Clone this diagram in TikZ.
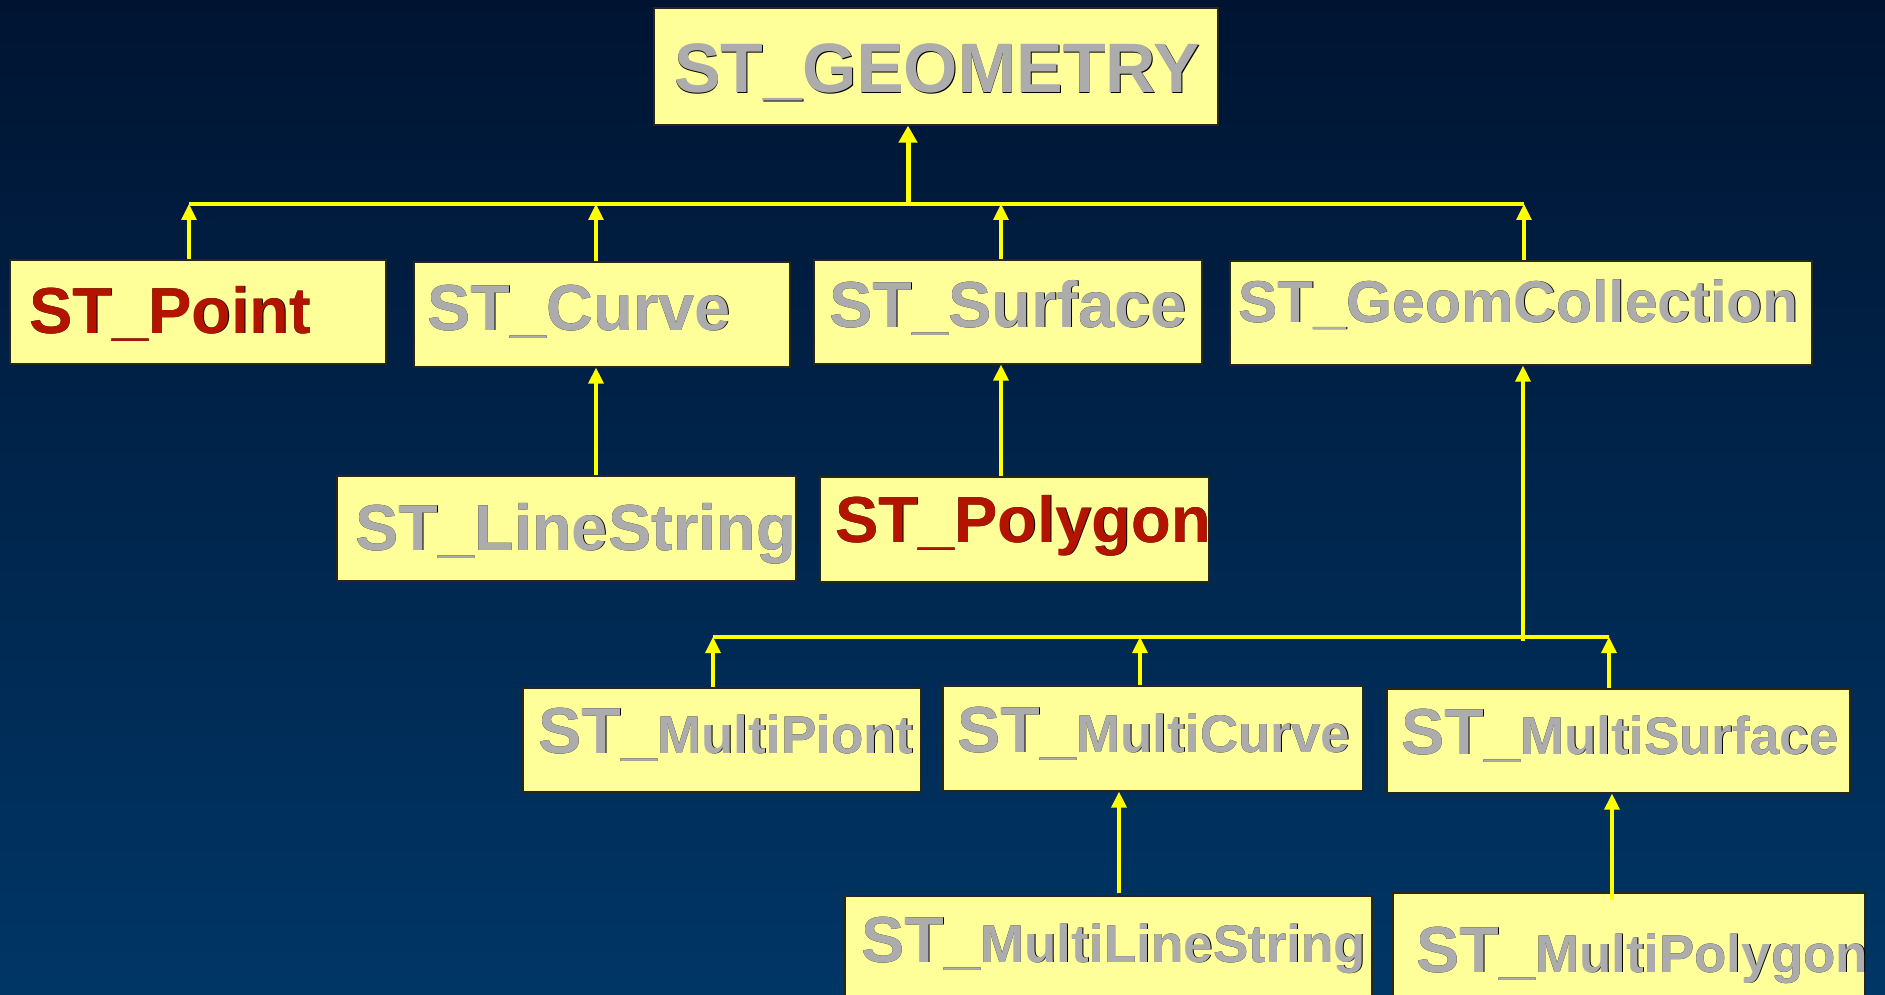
\documentclass[tikz,border=0pt]{standalone}
\usepackage{fontspec}
\setmainfont{Liberation Sans}
\usetikzlibrary{positioning,arrows.meta,fit}

\definecolor{navytop}{RGB}{0,20,50}
\definecolor{navybot}{RGB}{0,54,102}
\definecolor{boxfill}{RGB}{255,255,153}
\definecolor{boxline}{RGB}{40,40,20}
\definecolor{typegray}{RGB}{172,172,172}
\definecolor{typered}{RGB}{178,20,0}
\definecolor{linkyellow}{RGB}{255,255,0}

% font size in one go, and text with a black drop shadow
\newcommand{\setsize}[1]{\fontsize{#1}{#1}\selectfont\bfseries}
\newcommand{\shadowed}[2]{{\makebox[0pt][l]{\hspace{0.055em}\raisebox{-0.05em}{\color{black}#2}}\color{#1}#2}}

\tikzset{
    typebox/.style={draw=boxline, line width=1.2pt, fill=boxfill, inner sep=0pt},
    typename/.style={anchor=base west, inner sep=0pt},
    link/.style={draw=linkyellow, line width=3.2pt},
    tip/.style={link, -{Triangle[width=15pt,length=16pt]}},
    bigtip/.style={draw=linkyellow, line width=5pt, -{Triangle[width=18pt,length=17pt]}}
}

\begin{document}
\begin{tikzpicture}[x=1pt, y=-1pt]
    \useasboundingbox (0,0) rectangle (1885,995);
    \shade[top color=navytop, bottom color=navybot] (0,0) rectangle (1885,995);

    % Boxes: name / corners / text position / colour / label
    \foreach \n/\xa/\ya/\xb/\yb/\tx/\ty/\col/\txt in {
        geometry/654/8/1218/125/674/93/typegray/{\setsize{70pt}ST\_GEOMETRY},
        point/10/260/386/364/29/333/typered/{\setsize{65pt}ST\_Point},
        curve/414/262/790/367/427/330/typegray/{\setsize{65pt}ST\_Curve},
        surface/814/260/1202/364/829/327/typegray/{\setsize{65pt}ST\_Surface},
        collection/1230/261/1812/365/1238/322/typegray/{\setsize{59pt}ST\_GeomCollection},
        linestring/337/476/796/581/355/550/typegray/{\setsize{65pt}ST\_LineString},
        polygon/820/477/1209/582/835/542/typered/{\setsize{65pt}ST\_Polygon},
        mpoint/523/688/921/792/538/753/typegray/{\setsize{65pt}ST\_\setsize{53pt}MultiPiont},
        mcurve/943/686/1363/791/957/752/typegray/{\setsize{65pt}ST\_\setsize{53pt}MultiCurve},
        msurface/1387/689/1850/793/1401/754/typegray/{\setsize{65pt}ST\_\setsize{53pt}MultiSurface},
        mlinestring/845/896/1372/1010/861/962/typegray/{\setsize{65pt}ST\_\setsize{53pt}MultiLineString},
        mpolygon/1393/893/1865/1010/1416/972/typegray/{\setsize{65pt}ST\_\setsize{53pt}MultiPolygon}} {
        \node[typebox, fit={(\xa,\ya) (\xb,\yb)}] (\n) {};
        \node[typename] (\n-t) at (\tx,\ty) {\shadowed{\col}{\txt}};
    }

    % Top level - everything hangs off ST_GEOMETRY
    \coordinate (hub) at (908,204);
    \foreach \n/\x in {point/189, curve/596, surface/1001, collection/1524}
        \coordinate (b-\n) at (\x,204);
    \draw[link] (b-point) -- (b-collection);
    \draw[bigtip] (hub) -- (hub |- geometry.south);
    \foreach \n in {point, curve, surface, collection}
        \draw[tip] (b-\n |- \n.north) -- (b-\n);

    % Second level subtypes
    \draw[tip] (b-curve |- linestring.north) -- (b-curve |- curve.south);
    \draw[tip] (b-surface |- polygon.north) -- (b-surface |- surface.south);

    % Collection branch
    \coordinate (hub2) at (1523,641);
    \foreach \n/\x in {mpoint/713, mcurve/1140, msurface/1609}
        \coordinate (c-\n) at (\x,637);
    \draw[link] (c-mpoint) -- (c-msurface);
    \draw[tip] (hub2) -- (hub2 |- collection.south);
    \foreach \n in {mpoint, mcurve, msurface}
        \draw[tip] (c-\n |- \n.north) -- (c-\n);

    \coordinate (d-mcurve) at (1119,893);
    \coordinate (d-msurface) at (1612,900);
    \draw[tip] (d-mcurve) -- (d-mcurve |- mcurve.south);
    \draw[tip] (d-msurface) -- (d-msurface |- msurface.south);
\end{tikzpicture}
\end{document}
